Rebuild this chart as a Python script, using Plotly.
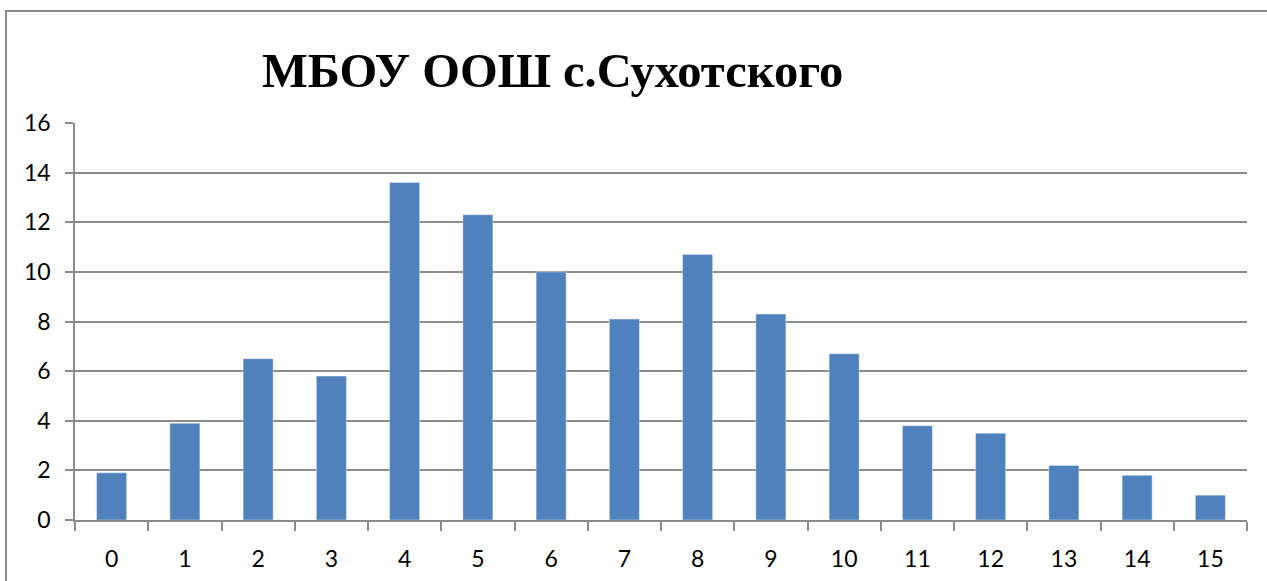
import plotly.graph_objects as go

categories = [str(i) for i in range(16)]
values = [1.9, 3.9, 6.5, 5.8, 13.6, 12.3, 10.0, 8.1, 10.7, 8.3, 6.7, 3.8, 3.5, 2.2, 1.8, 1.0]
title_text = "МБОУ ООШ с.Сухотского"

W, H = 1267, 581
ml, mr, mt, mb = 75, 20, 123, 61
pw, ph = W - ml - mr, H - mt - mb

fig = go.Figure(go.Bar(x=categories, y=values, marker_color="#4F81BD", width=0.41))

fig.update_layout(
    width=W, height=H,
    margin=dict(l=ml, r=mr, t=mt, b=mb, autoexpand=False),
    paper_bgcolor="white", plot_bgcolor="white",
    showlegend=False,
    font=dict(family="Lato, Open Sans, sans-serif", size=23, color="black"),
)
fig.update_yaxes(range=[0, 16], dtick=2, showgrid=True, gridcolor="#8c8c8c", gridwidth=1.5,
                 showline=True, linecolor="#8c8c8c", linewidth=1.5,
                 ticks="outside", ticklen=8, tickcolor="#8c8c8c", tickwidth=1.5,
                 ticklabelstandoff=10, zeroline=False, automargin=False,
                 tickfont=dict(size=23))
fig.update_xaxes(type="category", showline=True, linecolor="#8c8c8c", linewidth=1.5,
                 ticks="outside", tickson="boundaries", ticklen=9, tickcolor="#8c8c8c", tickwidth=1.5,
                 ticklabelstandoff=18, showgrid=False, automargin=False,
                 tickfont=dict(size=23))

fig.add_annotation(text="<b>" + title_text + "</b>", xref="paper", yref="paper",
                   x=(552 - ml) / pw, y=1 + (123 - 70) / ph, xanchor="center", yanchor="middle",
                   showarrow=False, font=dict(family="Liberation Serif, Times New Roman, serif", size=48.5, color="black"))

fig.add_shape(type="rect", xref="paper", yref="paper",
              x0=(6 - ml) / pw, x1=1.2, y0=-0.5, y1=1 + (mt - 11) / ph,
              line=dict(color="#8c8c8c", width=2), fillcolor="rgba(0,0,0,0)", layer="below")

fig.write_html("out.html", config={"displayModeBar": False},
               post_script="document.body.style.margin='0';document.body.style.overflow='hidden';")
